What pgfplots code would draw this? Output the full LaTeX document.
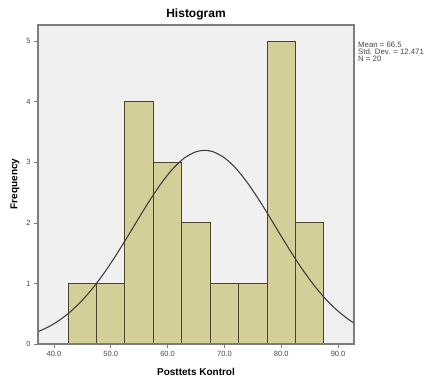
\documentclass[border=0pt]{standalone}
\usepackage{pgfplots}
\pgfplotsset{compat=1.18}
\usepackage{fontspec}
\setmainfont{Liberation Sans}
\definecolor{bgc}{RGB}{240,240,240}
\definecolor{barc}{RGB}{212,206,152}
\definecolor{edgec}{RGB}{72,68,40}
\definecolor{axc}{RGB}{125,125,125}
\definecolor{tickc}{RGB}{70,70,70}
\begin{document}
\begin{tikzpicture}[x=1pt,y=1pt]
\path (-38,-34) rectangle (387,344);
\begin{axis}[
  at={(0,0)}, anchor=south west,
  scale only axis, width=316pt, height=319pt,
  xmin=37.2, xmax=92.8, ymin=0, ymax=5.27,
  axis background/.style={fill=bgc},
  axis line style={axc, line width=1.2pt},
  axis x line*=bottom, axis y line*=left,
  xtick={40,50,60,70,80,90},
  xticklabels={40.0,50.0,60.0,70.0,80.0,90.0},
  ytick={0,1,2,3,4,5},
  tick align=outside, major tick length=4pt,
  tick style={axc, line width=0.8pt},
  ticklabel style={font=\fontsize{7.5}{8}\selectfont, text=tickc},
  /pgf/number format/assume math mode=true,
  clip=true,
]
\addplot[ybar interval, fill=barc, draw=edgec, line width=1.05pt] coordinates {
(42.5,1) (47.5,1) (52.5,4) (57.5,3) (62.5,2) (67.5,1) (72.5,1) (77.5,5) (82.5,2) (87.5,2)};
\addplot[smooth, draw=black!75, line width=1.1pt, mark=none] coordinates {
(37,0.195) (39,0.281) (41,0.395) (43,0.542) (45,0.724) (47,0.942) (49,1.195)
(51,1.478) (53,1.781) (55,2.091) (57,2.393) (59,2.670) (61,2.903) (63,3.076)
(65,3.176) (66.5,3.199) (68,3.176) (70,3.076) (72,2.903) (74,2.670) (76,2.393)
(78,2.091) (80,1.781) (82,1.478) (84,1.195) (86,0.942) (88,0.724) (90,0.542)
(92,0.395) (93,0.335)};
\end{axis}
\draw[axc, line width=1.2pt] (0,0) rectangle (316,319);
\node[font=\bfseries\fontsize{12}{14}\selectfont] at (158,330) {Histogram};
\node[font=\bfseries\fontsize{10}{12}\selectfont] at (158,-28) {Posttets Kontrol};
\node[font=\bfseries\fontsize{10}{12}\selectfont, rotate=90] at (-23,160) {Frequency};
\node[anchor=north west, align=left, inner sep=0pt, text=tickc, font=\fontsize{7.8}{7}\selectfont] at (320,302) {Mean = 66.5\\Std. Dev. = 12.471\\N = 20};
\end{tikzpicture}
\end{document}
